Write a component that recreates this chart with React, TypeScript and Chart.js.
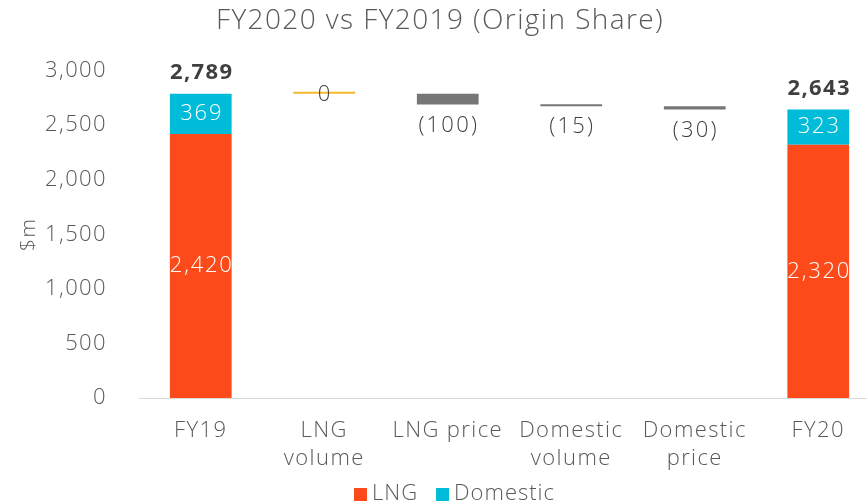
import React, { useEffect, useRef } from "react";
import { Chart, registerables } from "chart.js";

Chart.register(...registerables);

const categories: (string | string[])[] = ["FY19", ["LNG", "volume"], "LNG price", ["Domestic", "volume"], ["Domestic", "price"], "FY20"];
const lngValues = [2420, null, null, null, null, 2320];
const domesticValues = [369, null, null, null, null, 323];
const changeValues = [null, 0, -100, -15, -30, null];
const yTicks = [0, 500, 1000, 1500, 2000, 2500, 3000];

const FONT = "'Open Sans', sans-serif";
const TEXT = "#595959";

function fmt(n: number) {
  return n.toLocaleString("en-US");
}

export default function App() {
  const ref = useRef<HTMLCanvasElement | null>(null);
  useEffect(() => {
    document.body.style.margin = "0";
    const totals = lngValues.map((v, i) => (v == null ? null : v + (domesticValues[i] as number)));
    const floating: ([number, number] | null)[] = [];
    let running = totals[0] as number;
    changeValues.forEach((c) => {
      if (c == null) { floating.push(null); return; }
      const next = running + c;
      floating.push([next, running]);
      running = next;
    });
    const lngBars = lngValues.map((v) => (v == null ? null : [0, v]));
    const domBars = domesticValues.map((v, i) => (v == null ? null : [lngValues[i] as number, (lngValues[i] as number) + v]));
    const changeColors = changeValues.map((c) => (c === 0 ? "#F5B82A" : "#767676"));

    const spacingPlugin = {
      id: "spacing",
      beforeDraw(chart: any) {
        (chart.ctx as any).letterSpacing = "1.4px";
      },
    };

    const labelPlugin = {
      id: "labels",
      afterDatasetsDraw(chart: any) {
        const ctx = chart.ctx;
        const x = chart.scales.x;
        const y = chart.scales.y;
        ctx.save();
        ctx.textAlign = "center";
        ctx.textBaseline = "middle";
        categories.forEach((_, i) => {
          const cx = x.getPixelForValue(i);
          if (lngValues[i] != null) {
            const l = lngValues[i] as number;
            const d = domesticValues[i] as number;
            ctx.fillStyle = "#ffffff";
            ctx.font = `300 22px ${FONT}`;
            ctx.letterSpacing = "1.8px";
            ctx.fillText(fmt(l), cx + 1, y.getPixelForValue(l / 2));
            ctx.fillText(fmt(d), cx + 1, y.getPixelForValue(l + d / 2));
            ctx.fillStyle = "#3F3F3F";
            ctx.font = `bold 22px ${FONT}`;
            ctx.letterSpacing = "1.4px";
            ctx.fillText(fmt(l + d), cx + 1, y.getPixelForValue(l + d) - 21);
          }
          const f = floating[i];
          const c = changeValues[i];
          if (f && c != null) {
            ctx.fillStyle = "#404040";
            ctx.font = `300 22px ${FONT}`;
            ctx.letterSpacing = "2.2px";
            const txt = c < 0 ? `(${fmt(-c)})` : fmt(c);
            if (c === 0) {
              ctx.fillText(txt, cx + 1, y.getPixelForValue(f[1]) + 1);
            } else {
              ctx.fillText(txt, cx + 1, y.getPixelForValue(f[0]) + 21);
            }
          }
        });
        // legend (LNG, Domestic)
        const items = chart.data.datasets.filter((d: any) => d.label !== "Change");
        ctx.font = `300 22px ${FONT}`;
        ctx.letterSpacing = "1px";
        ctx.textAlign = "left";
        let lx = 354;
        const ly = 494;
        items.forEach((d: any) => {
          ctx.fillStyle = d.backgroundColor;
          ctx.fillRect(lx, ly - 6, 13, 13);
          lx += 18;
          ctx.fillStyle = TEXT;
          ctx.fillText(d.label, lx, ly);
          lx += ctx.measureText(d.label).width + 18;
        });
        ctx.restore();
      },
    };

    const chart = new Chart(ref.current as HTMLCanvasElement, {
      type: "bar",
      data: {
        labels: categories as any,
        datasets: [
          { label: "LNG", data: lngBars as any, backgroundColor: "#FC4A1A", grouped: false, barPercentage: 0.5, categoryPercentage: 1 } as any,
          { label: "Domestic", data: domBars as any, backgroundColor: "#00BCD8", grouped: false, barPercentage: 0.5, categoryPercentage: 1 } as any,
          { label: "Change", data: floating as any, backgroundColor: changeColors, grouped: false, barPercentage: 0.5, categoryPercentage: 1, minBarLength: 2 } as any,
        ],
      },
      options: {
        animation: false,
        responsive: false,
        maintainAspectRatio: false,
        layout: { padding: { left: 0, right: 0, top: 0, bottom: 27 } },
        plugins: {
          title: {
            display: true,
            text: "FY2020 vs FY2019 (Origin Share)",
            color: TEXT,
            font: { family: FONT, size: 28, weight: "300" as any },
            padding: { top: 4, bottom: 33 },
          },
          legend: { display: false },
          tooltip: { enabled: false },
        },
        scales: {
          x: {
            afterFit: (scale: any) => { scale.height = 78; },
            grid: { display: false },
            border: { display: true, color: "#D9D9D9" },
            ticks: { color: TEXT, font: { family: FONT, size: 22, weight: "300" as any, lineHeight: 1.27 }, padding: 11, maxRotation: 0, autoSkip: false },
          },
          y: {
            min: 0,
            max: 3000,
            afterBuildTicks: (scale: any) => { scale.ticks = yTicks.map((v) => ({ value: v })); },
            afterFit: (scale: any) => { scale.width = 139; },
            grid: { display: false },
            border: { display: false },
            ticks: { color: TEXT, font: { family: FONT, size: 22, weight: "300" as any }, padding: 24, callback: (v: any) => fmt(Number(v)) },
            title: { display: true, text: "$m", color: TEXT, font: { family: FONT, size: 21, weight: "300" as any }, padding: { top: 16, bottom: 0 } },
          },
        },
      },
      plugins: [spacingPlugin, labelPlugin],
    });
    return () => chart.destroy();
  }, []);
  return (
    <div style={{ position: "absolute", left: 0, top: 0, width: 867, height: 503, overflow: "hidden", background: "#fff" }}>
      <canvas ref={ref} width={880} height={503} style={{ display: "block" }} />
    </div>
  );
}
